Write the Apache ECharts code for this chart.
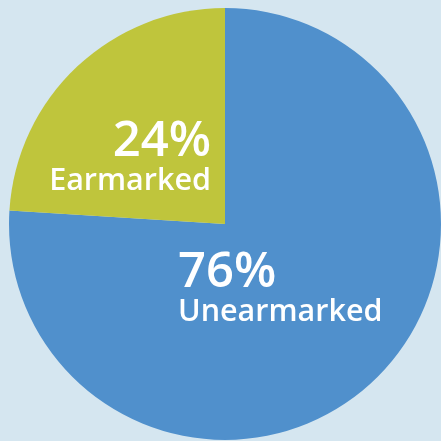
<!DOCTYPE html>
<html>
<head>
<meta charset="utf-8">
<script src="https://cdn.jsdelivr.net/npm/echarts@6/dist/echarts.min.js"></script>
<style>
  html, body { margin: 0; padding: 0; background: #d5e6f0; }
  #main { width: 441px; height: 441px; }
</style>
</head>
<body>
<div id="main"></div>
<script>
// share of funding
var names = ['Unearmarked', 'Earmarked'];
var values = [76, 24];
var colors = ['#5090cc', '#bfc53c'];

var chart = echarts.init(document.getElementById('main'));

var data = names.map(function (n, i) {
    return { name: n, value: values[i], itemStyle: { color: colors[i] } };
});

// where each label block sits
var labelPos = [
    { x: 178, y: 290, align: 'left' },
    { x: 211, y: 159, align: 'right' }
];

chart.setOption({
    backgroundColor: '#d5e6f0',
    animation: false,
    series: [{
        type: 'pie',
        center: [225, 224],
        radius: 216,
        startAngle: 90,
        clockwise: true,
        silent: true,
        data: data,
        label: {
            show: true,
            position: 'inside',
            formatter: function (p) {
                return '{pct|' + p.value + '%}\n{name|' + p.name + '}';
            },
            rich: {
                pct: { color: '#fff', fontFamily: 'Open Sans', fontWeight: 600, fontSize: 49, lineHeight: 44 },
                name: { color: '#fff', fontFamily: 'Open Sans', fontWeight: 600, fontSize: 30.5, lineHeight: 34 }
            }
        },
        labelLine: { show: false },
        labelLayout: function (params) {
            var p = labelPos[params.dataIndex];
            return { x: p.x, y: p.y, align: p.align, verticalAlign: 'middle' };
        }
    }]
});
</script>
</body>
</html>
